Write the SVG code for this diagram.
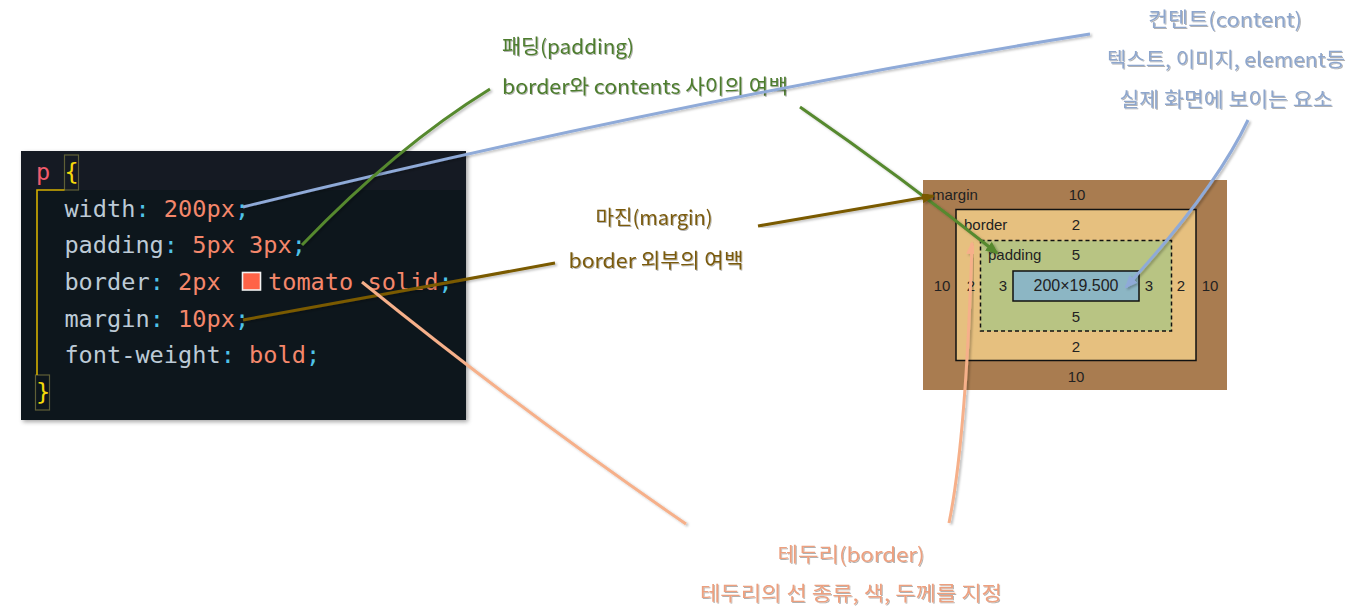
<svg xmlns="http://www.w3.org/2000/svg" width="1355" height="609" viewBox="0 0 1355 609">
<style>
.code{font-family:"DejaVu Sans Mono","Liberation Mono",monospace;font-size:23.6px}
.kw{fill:#f15b6c}.br{fill:#f5d90a}.k{fill:#bccad6}.c{fill:#4fc3e8}.v{fill:#f4876b}
.bm{font-family:"Liberation Sans",Arial,sans-serif;font-size:15px;fill:#222}
.lab{font-family:"Noto Sans CJK KR","Noto Sans",sans-serif;font-size:20px;filter:url(#tsh)}
.conn{fill:none;stroke-width:3;stroke-linecap:butt;filter:url(#lsh)}
</style>
<defs>
<filter id="tsh" x="-5%" y="-20%" width="110%" height="150%"><feDropShadow dx="1" dy="1" stdDeviation="0.7" flood-color="#000" flood-opacity="0.3"/></filter>
<filter id="lsh" x="-5%" y="-5%" width="110%" height="110%"><feDropShadow dx="2" dy="1.5" stdDeviation="1" flood-color="#000" flood-opacity="0.25"/></filter>
<filter id="bsh" x="-5%" y="-5%" width="110%" height="112%"><feDropShadow dx="2" dy="2" stdDeviation="2" flood-color="#000" flood-opacity="0.35"/></filter>
<marker id="ah-blue" markerUnits="userSpaceOnUse" markerWidth="13" markerHeight="11" refX="11" refY="5.5" orient="auto"><path d="M0,0 L13,5.5 L0,11 z" fill="#8faad8"/></marker>
<marker id="ah-green" markerUnits="userSpaceOnUse" markerWidth="13" markerHeight="11" refX="11" refY="5.5" orient="auto"><path d="M0,0 L13,5.5 L0,11 z" fill="#56892f"/></marker>
<marker id="ah-brown" markerUnits="userSpaceOnUse" markerWidth="13" markerHeight="11" refX="11" refY="5.5" orient="auto"><path d="M0,0 L13,5.5 L0,11 z" fill="#7a5a00"/></marker>
<marker id="ah-orange" markerUnits="userSpaceOnUse" markerWidth="13" markerHeight="11" refX="11" refY="5.5" orient="auto"><path d="M0,0 L13,5.5 L0,11 z" fill="#f6b08a"/></marker>
</defs>
<rect width="1355" height="609" fill="#ffffff"/>

<g id="code">
<rect x="21" y="151" width="445" height="269" fill="#10141c" filter="url(#bsh)"/>
<rect x="21" y="151" width="445" height="39" fill="#151a23"/>
<rect x="64.5" y="155" width="14" height="35" fill="none" stroke="#5f5f36" stroke-width="1.2"/>
<rect x="35.5" y="375" width="14" height="35" fill="none" stroke="#5f5f36" stroke-width="1.2"/>
<path d="M37,375 V190 H64.5" fill="none" stroke="#d4b000" stroke-width="1.6"/>
<text class="code" x="36" y="180"><tspan class="kw">p</tspan> <tspan class="br">{</tspan></text>
<text class="code" x="64.4" y="216.7"><tspan class="k">width</tspan><tspan class="c">:</tspan><tspan class="v"> 200px</tspan><tspan class="c">;</tspan></text>
<text class="code" x="64.4" y="253.3"><tspan class="k">padding</tspan><tspan class="c">:</tspan><tspan class="v"> 5px 3px</tspan><tspan class="c">;</tspan></text>
<text class="code" x="64.4" y="290"><tspan class="k">border</tspan><tspan class="c">:</tspan><tspan class="v"> 2px</tspan></text>
<rect x="242.5" y="272.5" width="18" height="17.5" fill="#ff6347" stroke="#f2f2f2" stroke-width="1.6"/>
<text class="code" x="268" y="290"><tspan class="v">tomato solid</tspan><tspan class="c">;</tspan></text>
<text class="code" x="64.4" y="326.7"><tspan class="k">margin</tspan><tspan class="c">:</tspan><tspan class="v"> 10px</tspan><tspan class="c">;</tspan></text>
<text class="code" x="64.4" y="363.3"><tspan class="k">font-weight</tspan><tspan class="c">:</tspan><tspan class="v"> bold</tspan><tspan class="c">;</tspan></text>
<text class="code br" x="36" y="400">}</text>
</g>

<g id="boxmodel">
<rect x="923" y="180" width="304" height="210" fill="#a97c50"/>
<rect x="956" y="209.5" width="240" height="151" fill="#e6c07f" stroke="#111" stroke-width="1.5"/>
<rect x="980.5" y="240.5" width="191" height="90.5" fill="#b8c483" stroke="#111" stroke-width="1.5" stroke-dasharray="4 3"/>
<rect x="1013" y="271" width="126" height="30" fill="#8cb6c4" stroke="#111" stroke-width="1.5"/>
<text class="bm" x="932" y="200">margin</text>
<text class="bm" x="1077" y="200" text-anchor="middle">10</text>
<text class="bm" x="964" y="230">border</text>
<text class="bm" x="1076" y="230" text-anchor="middle">2</text>
<text class="bm" x="988" y="260">padding</text>
<text class="bm" x="1076" y="260" text-anchor="middle">5</text>
<text class="bm" x="942" y="291" text-anchor="middle">10</text>
<text class="bm" x="971" y="291" text-anchor="middle">2</text>
<text class="bm" x="1003" y="291" text-anchor="middle">3</text>
<text class="bm" x="1076" y="291" text-anchor="middle" style="font-size:16px">200×19.500</text>
<text class="bm" x="1149" y="291" text-anchor="middle">3</text>
<text class="bm" x="1181" y="291" text-anchor="middle">2</text>
<text class="bm" x="1210" y="291" text-anchor="middle">10</text>
<text class="bm" x="1076" y="322" text-anchor="middle">5</text>
<text class="bm" x="1076" y="352" text-anchor="middle">2</text>
<text class="bm" x="1076" y="382" text-anchor="middle">10</text>
</g>

<g id="label-padding" fill="#4d7c2e">
<text class="lab" x="502" y="54" textLength="132" lengthAdjust="spacingAndGlyphs">패딩(padding)</text>
<text class="lab" x="502" y="94" textLength="286" lengthAdjust="spacingAndGlyphs">border와 contents 사이의 여백</text>
</g>

<g id="label-content" fill="#8ea6cc" text-anchor="middle">
<text class="lab" x="1225" y="27" textLength="154" lengthAdjust="spacingAndGlyphs">컨텐트(content)</text>
<text class="lab" x="1226" y="67" textLength="238" lengthAdjust="spacingAndGlyphs">텍스트, 이미지, element등</text>
<text class="lab" x="1226" y="107" textLength="213" lengthAdjust="spacingAndGlyphs">실제 화면에 보이는 요소</text>
</g>

<g id="label-margin" fill="#7a5a0c" text-anchor="middle">
<text class="lab" x="654" y="225" textLength="117" lengthAdjust="spacingAndGlyphs">마진(margin)</text>
<text class="lab" x="656" y="268" textLength="175" lengthAdjust="spacingAndGlyphs">border 외부의 여백</text>
</g>

<g id="label-border" fill="#eda07f" text-anchor="middle">
<text class="lab" x="851" y="562" textLength="147" lengthAdjust="spacingAndGlyphs">테두리(border)</text>
<text class="lab" x="851" y="601" textLength="302" lengthAdjust="spacingAndGlyphs">테두리의 선 종류, 색, 두께를 지정</text>
</g>

<g id="connectors">
<path class="conn" stroke="#8faad8" d="M243,207 Q683,99 1090,34"/>
<path class="conn" stroke="#8faad8" d="M1248,120 Q1215,190 1126,287" marker-end="url(#ah-blue)"/>
<path class="conn" stroke="#56892f" d="M302,245 Q396,147 490,89"/>
<path class="conn" stroke="#56892f" d="M800,107 Q900,176 997,253" marker-end="url(#ah-green)"/>
<path class="conn" stroke="#7a5a00" d="M243,320 L555,263"/>
<path class="conn" stroke="#7a5a00" d="M758,226 L933,196" marker-end="url(#ah-brown)"/>
<path class="conn" stroke="#f6b08a" d="M362,282 Q524,413 686,524"/>
<path class="conn" stroke="#f6b08a" d="M949,523 Q966,440 972,243" marker-end="url(#ah-orange)"/>
</g>
</svg>
